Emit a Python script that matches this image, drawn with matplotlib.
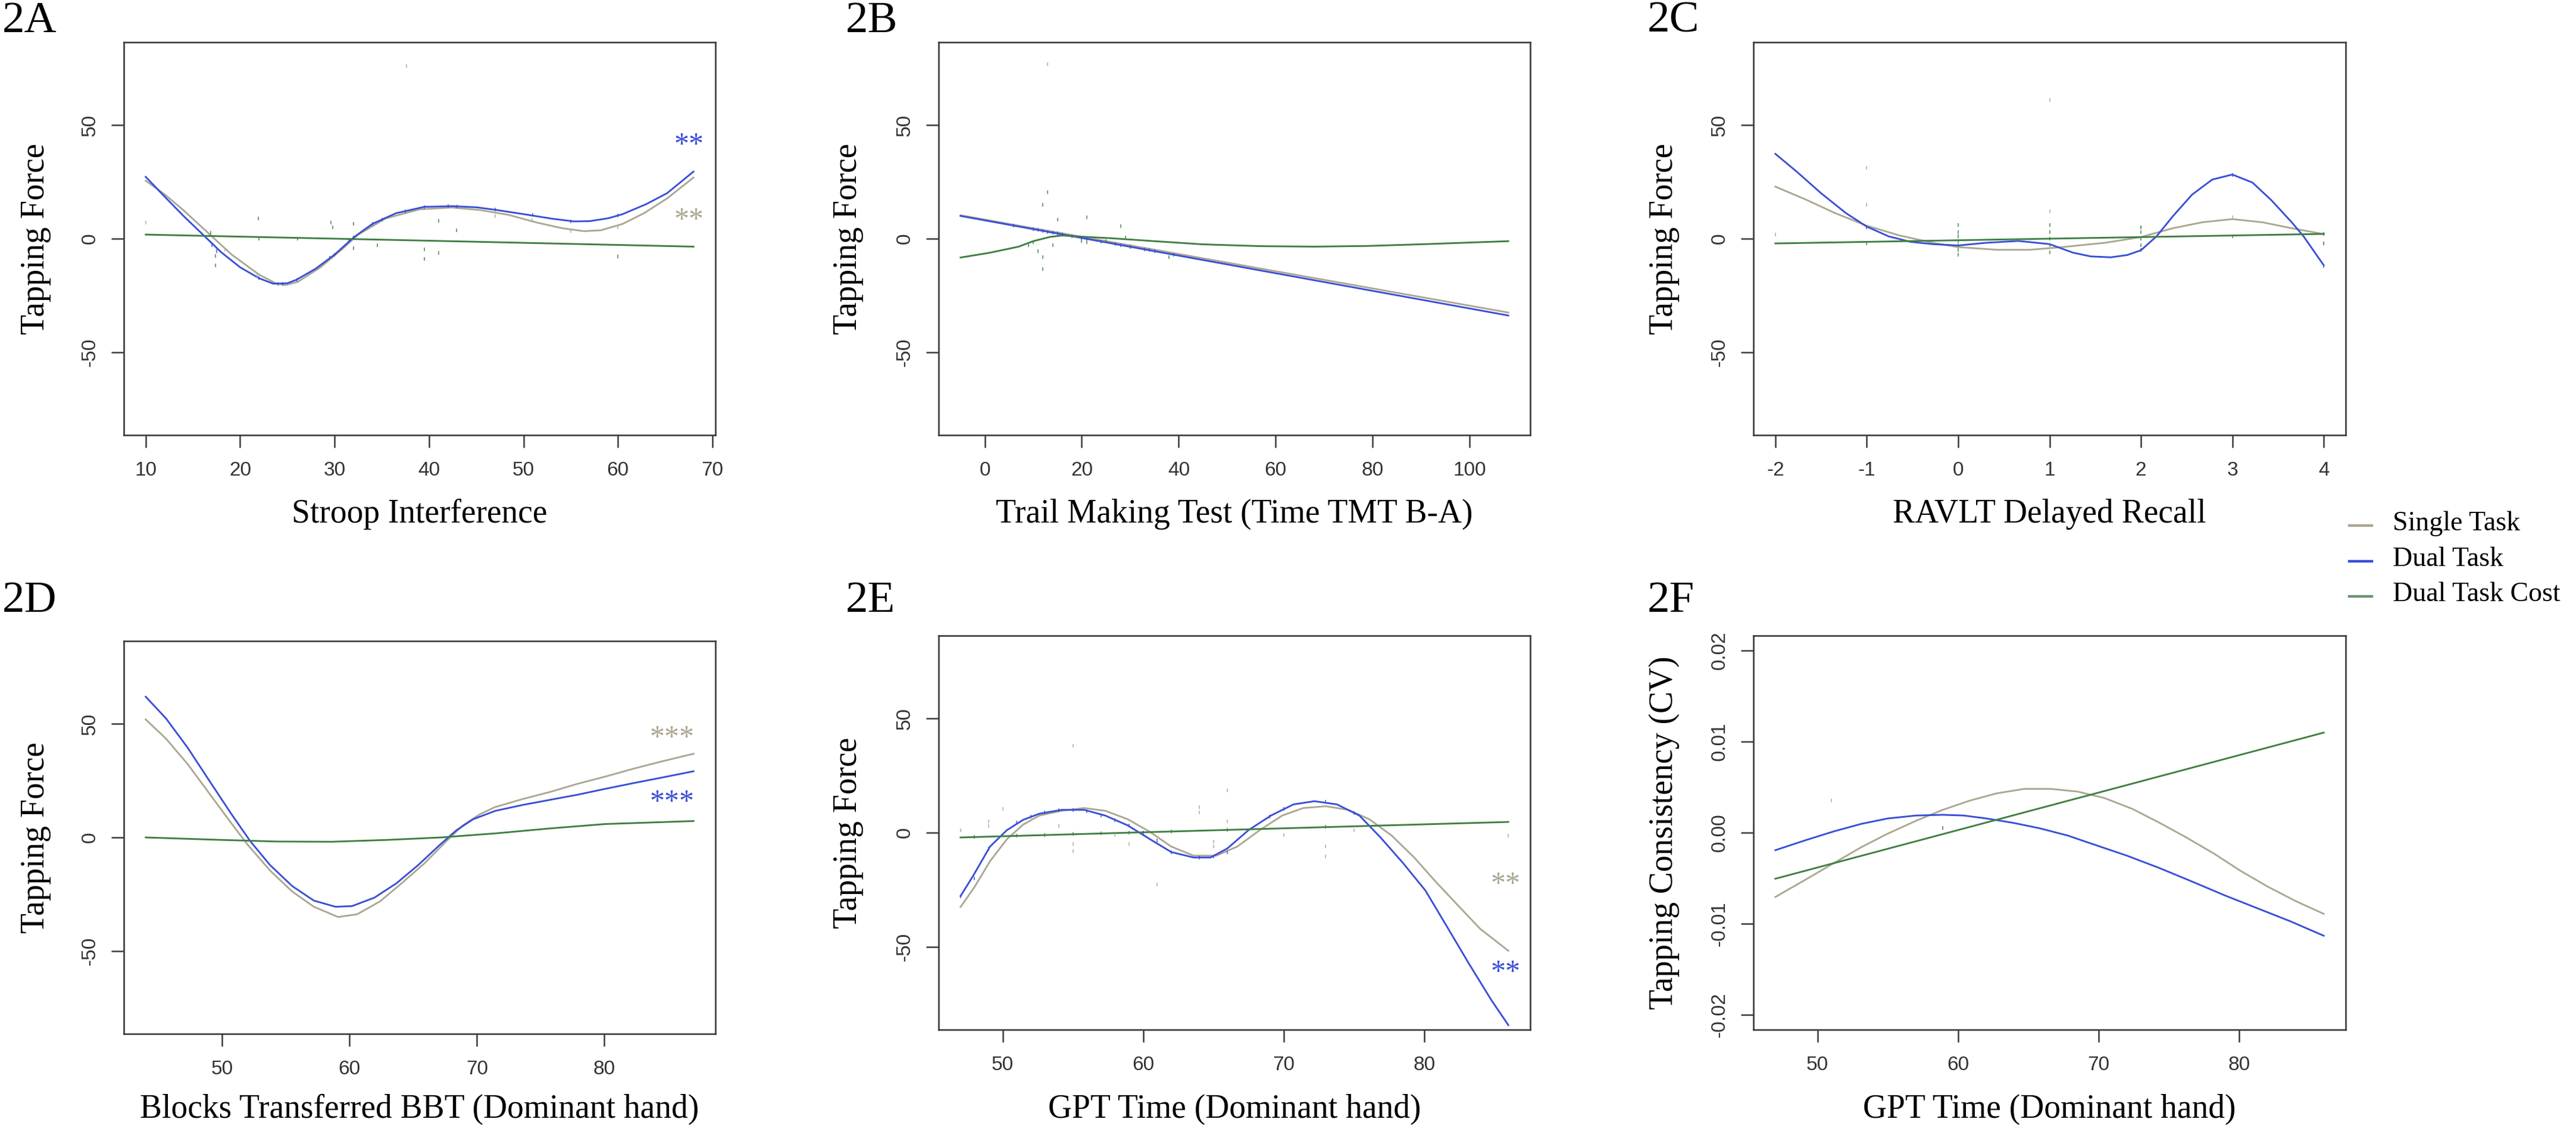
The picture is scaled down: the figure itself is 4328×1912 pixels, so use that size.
import numpy as np
import matplotlib
matplotlib.use("Agg")
import matplotlib.pyplot as plt
from matplotlib.lines import Line2D
from matplotlib import font_manager

plt.rcParams['axes.unicode_minus'] = False

W, H = 4328, 1912
SERIF = ['Liberation Serif', 'DejaVu Serif']
_names = {f.name for f in font_manager.fontManager.ttflist}
if 'Liberation Sans Narrow' in _names:
    SANS = ['Liberation Sans Narrow', 'Liberation Sans']
    TICK_SIZE = 27
else:
    SANS = ['Liberation Sans', 'DejaVu Sans']
    TICK_SIZE = 24

C_SINGLE = '#aba792'
C_DUAL = '#3a4fd6'
C_COST = '#3f7f43'
C_COST_LEG = '#6c926f'

# ---------------- data ----------------
# 2A  Stroop interference
a_single_x = [10, 12, 14, 16.8, 19.1, 22, 23.8, 24.8, 26.1, 28.5, 30.8, 32.5, 35.4, 39, 42.4, 45.4, 48.4, 51.2, 54.1, 56.4, 58.2, 60.5, 62.8, 65.2, 68]
a_single_y = [25.5, 19.5, 12.5, 1.8, -7, -15.8, -19.7, -20.4, -19, -12.6, -4.6, 1.8, 8.9, 12.9, 13.7, 12.6, 10.5, 7.3, 4.6, 3.3, 3.7, 6.5, 11.3, 17.7, 26.9]
a_dual_x = [10, 12, 14, 16, 18, 20, 22, 23.5, 25, 26, 28, 30, 32, 34, 36.5, 39.5, 42.5, 45, 47, 50, 53, 55.3, 57, 59, 60.5, 63, 65.2, 68]
a_dual_y = [27.2, 18.5, 10, 2, -6, -12.6, -17.4, -19.8, -19.6, -18, -13.2, -7, 0.5, 6.5, 11.2, 14, 14.3, 13.8, 12.7, 10.8, 8.8, 7.6, 7.7, 9, 10.8, 15.2, 20, 29.5]
a_cost_x = [10, 40, 68]
a_cost_y = [1.8, -0.9, -3.5]
a_pts_single_x = [10, 18.4, 21.8, 37.6, 47, 50.9, 55, 60]
a_pts_single_y = [7, -4.6, -16.6, 76, 10, 8.1, 3.3, 5]
a_pts_dual_x = [17, 17.5, 22, 24, 24.5, 26, 29.5, 30, 31.5, 32, 34, 35, 37.5, 39.5, 42, 43, 47, 51, 55, 60]
a_pts_dual_y = [-3, -5.5, -17.4, -20, -20, -18, -8.5, -7, -1, 0.5, 6.5, 8.5, 12, 14, 14.3, 14.2, 12.7, 10.5, 7.6, 10.2]
a_pts_cost_x = [16.9, 17.4, 17.4, 21.9, 22, 26.1, 29.6, 29.8, 32, 32, 34.5, 39.5, 39.5, 41, 41, 42.9, 60]
a_pts_cost_y = [2.5, -7.5, -11.8, 8.8, 0, 0, 7, 5, 6.5, -4.3, -3, -4.6, -8.9, -6.2, 7.8, 3.7, -7.8]

# 2B  Trail making test
b_single_x = [-5, 108]
b_single_y = [10.3, -32.5]
b_dual_x = [-5, 108]
b_dual_y = [10.0, -33.8]
b_cost_x = [-5, 1, 7, 10, 13.5, 16, 19, 26, 35, 45, 57, 68, 79, 91, 108]
b_cost_y = [-8.3, -6.2, -3.5, -1.1, 0.8, 1.4, 1.0, 0.2, -1.1, -2.5, -3.3, -3.5, -3.2, -2.4, -1.1]
b_pts_single_x = [13]
b_pts_single_y = [76.6]
b_pts_dual_x = [6, 10, 11, 12, 13, 14, 15, 16, 18, 20, 21, 24, 27, 28, 30, 33, 34, 35, 39]
b_pts_dual_y = [5.7, 4.2, 3.8, 3.4, 3.0, 2.6, 2.3, 1.9, 1.1, 0.3, -0.1, -1.2, -2.4, -2.8, -3.6, -4.7, -5.1, -5.5, -7.0]
b_pts_cost_x = [13, 12, 15, 21, 12, 28, 30, 9, 10, 11, 12, 14, 20, 21, 25, 29, 38]
b_pts_cost_y = [20.4, 14.8, 8.4, 9.5, -13.4, 5.4, -3.5, -3, -1.5, -5.5, -8, -3, -1, -1.5, -1, 0.5, -8]

# 2C  RAVLT delayed recall
c_single_x = [-2, -1.65, -1.35, -1, -0.64, -0.28, 0, 0.43, 0.78, 1.14, 1.61, 2, 2.35, 2.67, 3, 3.33, 3.65, 4]
c_single_y = [22.9, 16.9, 11.3, 5.7, 1.4, -1.8, -3.7, -4.9, -4.9, -3.7, -1.8, 0.7, 4.6, 7.2, 8.6, 7.2, 4.6, 2.0]
c_dual_x = [-2, -1.77, -1.5, -1.23, -1, -0.76, -0.52, -0.28, 0, 0.31, 0.66, 1, 1.26, 1.45, 1.67, 1.85, 2, 2.17, 2.35, 2.56, 2.78, 3, 3.22, 3.43, 3.65, 3.78, 4]
c_dual_y = [37.3, 29.6, 20, 11.3, 5.3, 1, -1.4, -2.4, -3, -1.8, -1, -2.4, -6.2, -7.8, -8.2, -7.2, -5.1, 1.0, 9.9, 19.4, 26, 28.2, 24.7, 16.8, 7.2, 1.0, -11.7]
c_cost_x = [-2, 4]
c_cost_y = [-2.1, 2.1]
c_pts_single_x = [1, -1, -1, 1, -2, 3, 4, 2]
c_pts_single_y = [61.1, 31.2, 15, 12.1, 1.8, 9.5, -2, 5]
c_pts_dual_x = [-1, 2, 3, 4]
c_pts_dual_y = [5, -5, 28, -12]
c_pts_cost_x = [0, 0, 0, 0, 0, 0, 0, 1, 1, 1, 1, 1, 2, 2, 2, 2, 2, -1, 3, 4, 4]
c_pts_cost_y = [-7, -5, -3, -1, 1, 3, 6, -6, -3, 0, 3, 6, -5, -3, 0, 3, 5, -2, 1, -2, 2]

# 2D  Box and block test
d_single_x = [44, 45.6, 47.3, 49, 50.7, 52, 53.75, 55.5, 57.2, 59.1, 60.6, 62.4, 64.1, 65.9, 67.6, 68.9, 70.2, 71.4, 73.6, 75.8, 77.9, 80.1, 82.2, 84.4, 87]
d_single_y = [51.9, 43.4, 32.2, 19.3, 6.4, -3.2, -14.5, -23.8, -30.5, -35, -33.8, -28.1, -20.1, -11.3, -1.6, 5.3, 10.1, 13.3, 16.9, 20.1, 23.6, 26.8, 30.1, 33.3, 36.8]
d_dual_x = [44, 45.6, 47.3, 49, 50.7, 52.2, 53.75, 55.5, 57.2, 58.9, 60.2, 61.95, 63.7, 65.4, 67.1, 68.4, 69.7, 71.45, 73.6, 75.8, 77.9, 80.1, 82.2, 84.4, 87]
d_dual_y = [61.9, 52.3, 39.4, 24.9, 10.5, -1.6, -12.1, -21.4, -27.8, -30.5, -30.2, -26.5, -20.1, -12.1, -3.2, 3.2, 8, 11.7, 14.3, 16.6, 18.8, 21.4, 23.8, 26.2, 29.1]
d_cost_x = [44, 50, 54.3, 58.6, 62.9, 67.2, 71.5, 75.8, 80.1, 87]
d_cost_y = [0, -1.1, -1.8, -1.9, -1.1, 0, 1.8, 4, 5.9, 7.2]

# 2E  GPT time (force)
e_single_x = [47, 48, 49.1, 50.3, 51.45, 52.6, 54.2, 55.8, 57.3, 58.9, 60.5, 62, 63.6, 65.2, 66.7, 68.3, 69.9, 71.4, 73, 74.6, 76.1, 77.7, 79.3, 80.8, 82.4, 84, 86]
e_single_y = [-32.6, -23.8, -12.5, -2.9, 3.5, 7.5, 9.6, 10.8, 9.6, 5.9, 0.3, -6.1, -10.1, -10.1, -6.1, 1.1, 7.5, 10.8, 11.6, 10, 5.9, -1.3, -10.9, -21.3, -31.8, -42.2, -51.8]
e_dual_x = [47, 47.9, 49.1, 50.3, 51.45, 52.6, 54.2, 55.8, 57.3, 58.9, 60.5, 62, 63.6, 64.8, 66, 67.5, 69.1, 70.7, 72.2, 73.8, 75.4, 76.9, 78.5, 80.1, 81.65, 83.2, 84.8, 86]
e_dual_y = [-27.8, -18.9, -6.1, 1.1, 5.6, 8.3, 10, 10, 7.5, 3.2, -2.9, -8.5, -10.9, -10.9, -6.9, 1.1, 7.5, 12.4, 13.8, 12.4, 7.5, -2.1, -13.3, -25.4, -41.4, -57.5, -73.5, -84.4]
e_cost_x = [47, 86]
e_cost_y = [-2.1, 4.7]
e_pts_single_x = [55, 66, 64, 64, 61, 73, 73, 55, 55, 50, 49, 49, 86, 65, 65, 47, 54, 58, 59, 66, 70, 75]
e_pts_single_y = [38, 18.5, 11.2, 9, -22.6, -10.4, -6, -8, -5, 10.4, 5, 3, -1.3, -6, -4, 1, 3, -1, -5, 5, -1, 1]
e_pts_dual_x = [47, 48, 49, 51, 52, 53, 54, 55, 56, 57, 58, 59, 60, 61, 62, 64, 65, 66, 69, 70, 73, 75]
e_pts_dual_y = [-27.8, -20, -7, 4.5, 7, 8.8, 9.8, 10, 9.3, 7.5, 5.5, 3.2, 0, -3.5, -8.5, -11, -10.5, -8.5, 7, 10.5, 13.5, 8.5]
e_pts_cost_x = [48, 51, 53, 55, 57, 59, 62, 66, 73]
e_pts_cost_y = [-1.8, -1.3, -1, -0.6, -0.3, 0.1, 0.6, 1.3, 2.5]

# 2F  GPT time (consistency)
f_single_x = [47, 49.2, 51.2, 53.1, 55, 57, 58.9, 60.8, 62.7, 64.7, 66.6, 68.5, 70.4, 72.4, 74.3, 76.2, 78.2, 80.1, 82, 84, 86]
f_single_y = [-0.00705, -0.0051, -0.0033, -0.0016, -0.0001, 0.0013, 0.0025, 0.0035, 0.0043, 0.0048, 0.0048, 0.0045, 0.0038, 0.0026, 0.0011, -0.0005, -0.0023, -0.0042, -0.0059, -0.0075, -0.0089]
f_dual_x = [47, 49.2, 51.2, 53.1, 55, 57, 58.9, 60.4, 62, 63.9, 65.8, 67.8, 69.7, 72, 74.35, 76.7, 79, 81.3, 83.6, 86]
f_dual_y = [-0.00192, -0.0008, 0.00016, 0.00096, 0.00156, 0.00188, 0.00196, 0.00188, 0.00156, 0.00108, 0.00048, -0.00032, -0.00132, -0.00252, -0.0039, -0.0054, -0.0069, -0.0083, -0.0097, -0.0113]
f_cost_x = [47, 86]
f_cost_y = [-0.00505, 0.01097]
f_pts_single_x = [51]
f_pts_single_y = [0.0035]
f_pts_cost_x = [58.9]
f_pts_cost_y = [0.0005]

legend_labels = ['Single Task', 'Dual Task', 'Dual Task Cost']


def px_axes(fig, x0, y0, x1, y1):
    return fig.add_axes([x0 / W, 1 - y1 / H, (x1 - x0) / W, (y1 - y0) / H])


def style_axes(ax, xlim, xticks, ylim, yticks, yticklabels=None):
    ax.set_xlim(*xlim)
    ax.set_ylim(*ylim)
    ax.set_xticks(xticks)
    ax.set_yticks(yticks)
    if yticklabels is not None:
        ax.set_yticklabels(yticklabels)
    for s in ax.spines.values():
        s.set_linewidth(1.9)
        s.set_color('#3a3a3a')
    ax.tick_params(axis='both', direction='out', length=15, width=1.8,
                   color='#3a3a3a', labelsize=TICK_SIZE, labelcolor='#333333')
    ax.tick_params(axis='x', pad=17)
    ax.tick_params(axis='y', pad=15, labelrotation=90)
    for lab in ax.get_xticklabels() + ax.get_yticklabels():
        lab.set_family(SANS)
    for lab in ax.get_yticklabels():
        lab.set_va('center')


def curves(ax, sx, sy, dx, dy, cx, cy):
    ax.plot(sx, sy, color=C_SINGLE, lw=2.1, zorder=3)
    ax.plot(dx, dy, color=C_DUAL, lw=2.1, zorder=4)
    ax.plot(cx, cy, color=C_COST, lw=2.1, zorder=5)


def marks(ax, x, y, color):
    ax.plot(x, y, ls='none', marker='|', ms=4.5, mew=1.3, color=color, alpha=0.8, zorder=6)


def stars(ax, x, y, s, color):
    ax.text(x, y, s, color=color, fontsize=36, family=SERIF, ha='center', va='center', zorder=7)


def fig_text(x, y, s, **kw):
    fig.text(x / W, 1 - y / H, s, **kw)


fig = plt.figure(figsize=(W / 100, H / 100), dpi=100)
fig.patch.set_facecolor('white')

# ---- 2A
ax = px_axes(fig, 208, 71, 1202, 731)
curves(ax, a_single_x, a_single_y, a_dual_x, a_dual_y, a_cost_x, a_cost_y)
marks(ax, a_pts_single_x, a_pts_single_y, C_SINGLE)
marks(ax, a_pts_dual_x, a_pts_dual_y, C_DUAL)
marks(ax, a_pts_cost_x, a_pts_cost_y, C_COST)
stars(ax, 67.5, 40.8, '**', C_DUAL)
stars(ax, 67.5, 7.8, '**', C_SINGLE)
style_axes(ax, (7.68, 70.32), range(10, 71, 10), (-86.4, 86.4), [-50, 0, 50])

# ---- 2B
ax = px_axes(fig, 1577, 71, 2571, 731)
curves(ax, b_single_x, b_single_y, b_dual_x, b_dual_y, b_cost_x, b_cost_y)
marks(ax, b_pts_single_x, b_pts_single_y, C_SINGLE)
marks(ax, b_pts_dual_x, b_pts_dual_y, C_DUAL)
marks(ax, b_pts_cost_x, b_pts_cost_y, C_COST)
style_axes(ax, (-9.52, 112.52), range(0, 101, 20), (-86.4, 86.4), [-50, 0, 50])

# ---- 2C
ax = px_axes(fig, 2946, 71, 3941, 731)
curves(ax, c_single_x, c_single_y, c_dual_x, c_dual_y, c_cost_x, c_cost_y)
marks(ax, c_pts_single_x, c_pts_single_y, C_SINGLE)
marks(ax, c_pts_dual_x, c_pts_dual_y, C_DUAL)
marks(ax, c_pts_cost_x, c_pts_cost_y, C_COST)
style_axes(ax, (-2.24, 4.24), range(-2, 5), (-86.4, 86.4), [-50, 0, 50])

# ---- 2D
ax = px_axes(fig, 208, 1077, 1202, 1737)
curves(ax, d_single_x, d_single_y, d_dual_x, d_dual_y, d_cost_x, d_cost_y)
stars(ax, 85.3, 43.4, '***', C_SINGLE)
stars(ax, 85.3, 15.3, '***', C_DUAL)
style_axes(ax, (42.28, 88.72), range(50, 81, 10), (-86.4, 86.4), [-50, 0, 50])

# ---- 2E
ax = px_axes(fig, 1577, 1068, 2571, 1730)
curves(ax, e_single_x, e_single_y, e_dual_x, e_dual_y, e_cost_x, e_cost_y)
marks(ax, e_pts_single_x, e_pts_single_y, C_SINGLE)
marks(ax, e_pts_dual_x, e_pts_dual_y, C_DUAL)
marks(ax, e_pts_cost_x, e_pts_cost_y, C_COST)
stars(ax, 85.8, -23, '**', C_SINGLE)
stars(ax, 85.8, -61.5, '**', C_DUAL)
style_axes(ax, (45.44, 87.56), range(50, 81, 10), (-86.4, 86.4), [-50, 0, 50])

# ---- 2F
ax = px_axes(fig, 2946, 1068, 3941, 1730)
curves(ax, f_single_x, f_single_y, f_dual_x, f_dual_y, f_cost_x, f_cost_y)
marks(ax, f_pts_single_x, f_pts_single_y, C_SINGLE)
marks(ax, f_pts_cost_x, f_pts_cost_y, '#555555')
style_axes(ax, (45.44, 87.56), range(50, 81, 10), (-0.0216, 0.0216),
           [-0.02, -0.01, 0, 0.01, 0.02], ['-0.02', '-0.01', '0.00', '0.01', '0.02'])

# ---- panel letters, axis titles
for s, x, y in [('2A', 4, 36), ('2B', 1421, 36), ('2C', 2768, 36),
                ('2D', 4, 1010), ('2E', 1421, 1010), ('2F', 2768, 1010)]:
    fig_text(x, y, s, fontsize=54, family=SERIF, ha='left', va='center')

xlabels = [('Stroop Interference', 705, 864),
           ('Trail Making Test (Time TMT B-A)', 2074, 864),
           ('RAVLT Delayed Recall', 3443, 864),
           ('Blocks Transferred BBT (Dominant hand)', 705, 1864),
           ('GPT Time (Dominant hand)', 2074, 1864),
           ('GPT Time (Dominant hand)', 3443, 1864)]
for s, x, y in xlabels:
    fig_text(x, y, s, fontsize=40, family=SERIF, ha='center', va='center')

ylabels = [('Tapping Force', 60, 401), ('Tapping Force', 1425, 401), ('Tapping Force', 2796, 401),
           ('Tapping Force', 60, 1407), ('Tapping Force', 1425, 1399),
           ('Tapping Consistency (CV)', 2796, 1399)]
for s, x, y in ylabels:
    fig_text(x, y, s, fontsize=40, family=SERIF, ha='center', va='center', rotation=90)

# ---- legend
for lab, col, y in zip(legend_labels, [C_SINGLE, C_DUAL, C_COST_LEG], [883, 943, 1002]):
    fig.add_artist(Line2D([3947 / W, 3985 / W], [1 - y / H, 1 - y / H], color=col, lw=3.2))
    fig_text(4020, y - 3, lab, fontsize=33, family=SERIF, ha='left', va='center')

fig.savefig('out.png', dpi=100, facecolor='white')
